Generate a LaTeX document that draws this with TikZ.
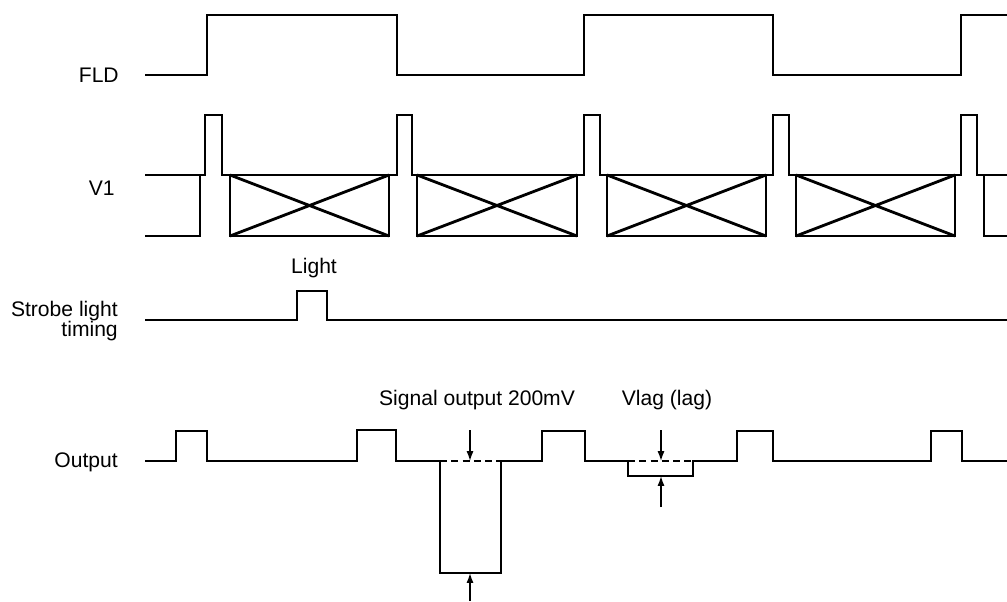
\documentclass[tikz,border=0pt]{standalone}
\usepackage{fontspec}
\setmainfont{Liberation Sans}
\usetikzlibrary{arrows.meta,positioning}

\begin{document}
\begin{tikzpicture}[x=0.025cm,y=-0.025cm,
    signal/.style={line width=2pt,line join=miter},
    levelline/.style={line width=1.2pt,dash pattern=on 5pt off 3pt},
    marker/.style={line width=1pt,-{Latex[length=7pt,width=5pt]}},
    lbl/.style={font=\fontsize{15}{14}\selectfont,inner sep=0pt}]
    \useasboundingbox (0,0) rectangle (1007,601);

    % the row labels
    \node[lbl,anchor=base east] (fld) at (119,82) {FLD};
    \node[lbl,anchor=base east] (v1) at (115,195) {V1};
    \node[lbl,anchor=east,align=right] (strobe) at (118,321) {Strobe light\\timing};
    \node[lbl,anchor=base east] (output) at (118,467) {Output};

    % FLD
    \draw[signal] (145,75) -- (207,75) -- (207,15) -- (397,15) -- (397,75)
        -- (584,75) -- (584,15) -- (773,15) -- (773,75) -- (961,75)
        -- (961,15) -- (1007,15);

    % V1 (upper level with the pulses, then the lower level)
    \draw[signal] (145,175) -- (205,175) -- (205,115) -- (222,115) -- (222,175)
        -- (397,175) -- (397,115) -- (412,115) -- (412,175)
        -- (584,175) -- (584,115) -- (600,115) -- (600,175)
        -- (773,175) -- (773,115) -- (789,115) -- (789,175)
        -- (961,175) -- (961,115) -- (977,115) -- (977,175) -- (1007,175);
    \draw[signal] (145,236) -- (200,236) -- (200,175);
    \draw[signal] (984,175) -- (984,236) -- (1007,236);

    % the crossed boxes
    \foreach \a/\b in {230/389,417/577,607/766,796/955} {
        \draw[signal] (\a,175) rectangle (\b,236);
        \draw[signal] (\a,175) -- (\b,236) (\a,236) -- (\b,175);
    }

    % strobe light
    \node[lbl,anchor=base] (light) at (314,273) {Light};
    \draw[signal] (145,320) -- (297,320) -- (297,291) -- (327,291) -- (327,320)
        -- (1007,320);

    % output
    \draw[signal] (145,461) -- (176,461) -- (176,431) -- (207,431) -- (207,461)
        -- (357,461) -- (357,430) -- (396,430) -- (396,461)
        -- (440,461) -- (440,573) -- (501,573) -- (501,461)
        -- (542,461) -- (542,431) -- (585,431) -- (585,461)
        -- (628,461) -- (628,476) -- (693,476) -- (693,461)
        -- (737,461) -- (737,431) -- (773,431) -- (773,461)
        -- (931,461) -- (931,431) -- (962,431) -- (962,461) -- (1007,461);
    \draw[levelline] (440,461) -- (501,461);
    \draw[levelline] (628,461) -- (693,461);

    % the levels and their arrows
    \node[lbl,anchor=base] (sigout) at (477,405) {Signal output 200mV};
    \node[lbl,anchor=base] (vlag) at (667,405) {Vlag (lag)};

    \coordinate (sigtop) at (470,430);
    \coordinate (sigbase) at (470,461);
    \coordinate (sigfoot) at (470,601);
    \coordinate (sigbot) at (470,573);
    \coordinate (lagtop) at (661,430);
    \coordinate (lagbase) at (661,461);
    \coordinate (lagfoot) at (661,507);
    \coordinate (lagbot) at (661,476);

    \draw[marker] (sigtop) -- (sigbase);
    \draw[marker] (sigfoot) -- (sigbot);
    \draw[marker] (lagtop) -- (lagbase);
    \draw[marker] (lagfoot) -- (lagbot);

\end{tikzpicture}
\end{document}
